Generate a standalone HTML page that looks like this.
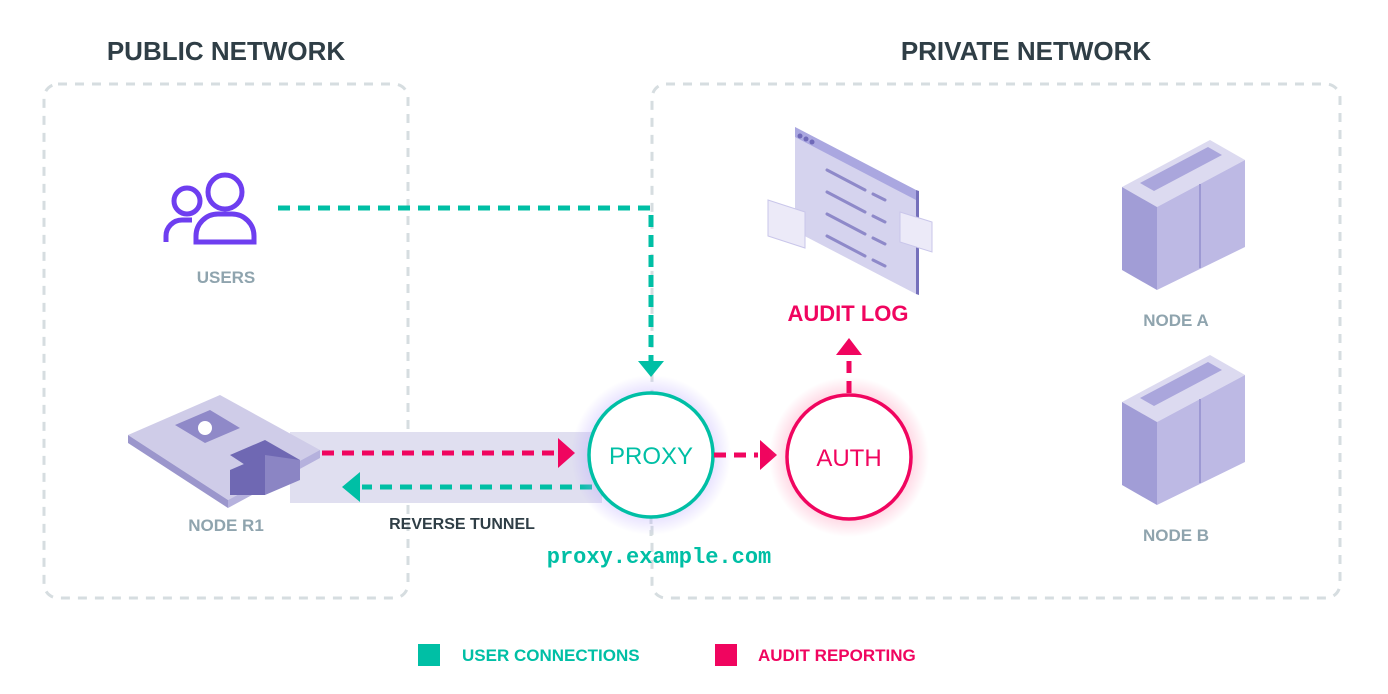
<!DOCTYPE html>
<html><head><meta charset="utf-8"><style>
html,body{margin:0;padding:0;background:#fff;}
svg{display:block;font-family:"Liberation Sans",sans-serif;}
</style></head><body>
<svg width="1388" height="694" viewBox="0 0 1388 694" xmlns="http://www.w3.org/2000/svg">
<defs>
<radialGradient id="gp"><stop offset="0.7" stop-color="#b9a8ff" stop-opacity="0.45"/><stop offset="1" stop-color="#b9a8ff" stop-opacity="0"/></radialGradient>
<radialGradient id="ga"><stop offset="0.7" stop-color="#ff6b9a" stop-opacity="0.35"/><stop offset="1" stop-color="#ff6b9a" stop-opacity="0"/></radialGradient>
</defs>
<text x="226" y="60" text-anchor="middle" font-size="26" font-weight="bold" fill="#2f3e46">PUBLIC NETWORK</text>
<text x="1026" y="60" text-anchor="middle" font-size="26" font-weight="bold" fill="#2f3e46">PRIVATE NETWORK</text>
<rect x="44" y="84" width="364" height="514" rx="14" fill="none" stroke="#d6dde0" stroke-width="3" stroke-dasharray="9 8"/>
<rect x="652" y="84" width="688" height="514" rx="14" fill="none" stroke="#d6dde0" stroke-width="3" stroke-dasharray="9 8"/>
<g fill="none" stroke="#6e3ef0" stroke-width="5">
<circle cx="187" cy="201" r="13"/><path d="M166 242 v-6 a16 16 0 0 1 16 -16 h10"/>
<circle cx="225" cy="192" r="17"/><path d="M196 242 v-6 a22 22 0 0 1 22 -22 h14 a22 22 0 0 1 22 22 v6 z"/>
</g>
<text x="226" y="283" text-anchor="middle" font-size="17" font-weight="bold" fill="#8fa4ae">USERS</text>
<path d="M278 208 H651 V362" fill="none" stroke="#00bfa5" stroke-width="5" stroke-dasharray="12 8"/>
<polygon points="638,361 664,361 651,377" fill="#00bfa5"/>
<rect x="290" y="432" width="312" height="71" fill="#e0dff0"/>
<g>
<polygon points="128,435 220,395 320,450 228,500" fill="#cfcce8"/>
<polygon points="128,435 228,500 228,508 128,443" fill="#9b96cc"/>
<polygon points="228,500 320,450 320,458 228,508" fill="#b5b1dd"/>
<polygon points="175,425 210,410 240,428 205,443" fill="#8f89c8"/>
<circle cx="205" cy="428" r="7" fill="#fff"/>
<polygon points="230,455 265,440 300,460 265,478" fill="#6f68b3"/>
<polygon points="230,470 265,455 265,495 230,495" fill="#6f68b3"/>
<polygon points="265,455 300,460 300,480 265,495" fill="#8b85c4"/>
</g>
<text x="226" y="531" text-anchor="middle" font-size="17" font-weight="bold" fill="#8fa4ae">NODE R1</text>
<text x="462" y="529" text-anchor="middle" font-size="16" font-weight="bold" fill="#2f3e46">REVERSE TUNNEL</text>
<path d="M322 453 H556" stroke="#f0055f" stroke-width="5" stroke-dasharray="12 8" fill="none"/>
<polygon points="558,438 575,453 558,468" fill="#f0055f"/>
<path d="M592 487 H362" stroke="#00bfa5" stroke-width="5" stroke-dasharray="12 8" fill="none"/>
<polygon points="360,472 342,487 360,502" fill="#00bfa5"/>
<line x1="651" y1="518" x2="651" y2="540" stroke="#d6dde0" stroke-width="3" stroke-dasharray="6 6"/>
<circle cx="651" cy="455" r="80" fill="url(#gp)"/>
<circle cx="651" cy="455" r="62" fill="#fff" stroke="#00bfa5" stroke-width="3.5"/>
<text x="651" y="464" text-anchor="middle" font-size="24" fill="#00bfa5">PROXY</text>
<text x="659" y="563" text-anchor="middle" font-size="22" font-weight="bold" fill="#00bfa5" font-family="Liberation Mono,monospace">proxy.example.com</text>
<path d="M714 455 H758" stroke="#f0055f" stroke-width="5" stroke-dasharray="12 8" fill="none"/>
<polygon points="760,440 777,455 760,470" fill="#f0055f"/>
<circle cx="849" cy="457" r="80" fill="url(#ga)"/>
<circle cx="849" cy="457" r="62" fill="#fff" stroke="#f0055f" stroke-width="3.5"/>
<text x="849" y="466" text-anchor="middle" font-size="24" fill="#f0055f">AUTH</text>
<path d="M849 393 V356" stroke="#f0055f" stroke-width="5" stroke-dasharray="12 8" fill="none"/>
<polygon points="836,355 862,355 849,338" fill="#f0055f"/>
<text x="848" y="321" text-anchor="middle" font-size="22" font-weight="bold" fill="#f0055f">AUDIT LOG</text>
<g>
<polygon points="795,127 916,190 916,294 795,231" fill="#d5d3ee"/>
<polygon points="795,127 916,190 916,200 795,137" fill="#aaa7e0"/>
<polygon points="916,190 919,191 919,295 916,294" fill="#7570bb"/>
<g fill="#6f69b8"><circle cx="800" cy="136" r="2.5"/><circle cx="806" cy="139" r="2.5"/><circle cx="812" cy="142" r="2.5"/></g>
<g stroke="#8e89c9" stroke-width="3" stroke-linecap="round">
<line x1="827" y1="170" x2="865" y2="190"/><line x1="873" y1="194" x2="885" y2="200"/>
<line x1="827" y1="192" x2="865" y2="212"/><line x1="873" y1="216" x2="885" y2="222"/>
<line x1="827" y1="214" x2="865" y2="234"/><line x1="873" y1="238" x2="885" y2="244"/>
<line x1="827" y1="236" x2="865" y2="256"/><line x1="873" y1="260" x2="885" y2="266"/>
</g>
<polygon points="768,200 805,212 805,248 768,236" fill="#eceaf8" stroke="#c9c6ea"/>
<polygon points="900,212 932,222 932,252 900,242" fill="#eceaf8" stroke="#c9c6ea"/>
</g>
<g id="srv">
<polygon points="1122,187 1210,140 1245,160 1157,207" fill="#dcdaf0"/>
<polygon points="1122,187 1157,207 1157,290 1122,270" fill="#a19dd6"/>
<polygon points="1157,207 1245,160 1245,247 1157,290" fill="#bdb9e4"/>
<polygon points="1140,183 1208,147 1222,155 1154,191" fill="#aaa6dc"/>
<line x1="1200" y1="184" x2="1200" y2="268" stroke="#9d99d3" stroke-width="2"/>
</g>
<use href="#srv" transform="translate(0,215)"/>
<text x="1176" y="326" text-anchor="middle" font-size="17" font-weight="bold" fill="#8fa4ae">NODE A</text>
<text x="1176" y="541" text-anchor="middle" font-size="17" font-weight="bold" fill="#8fa4ae">NODE B</text>
<rect x="418" y="644" width="22" height="22" fill="#00bfa5"/>
<text x="462" y="661" font-size="17" font-weight="bold" fill="#00bfa5">USER CONNECTIONS</text>
<rect x="715" y="644" width="22" height="22" fill="#f0055f"/>
<text x="758" y="661" font-size="17" font-weight="bold" fill="#f0055f">AUDIT REPORTING</text>
</svg>
</body></html>
